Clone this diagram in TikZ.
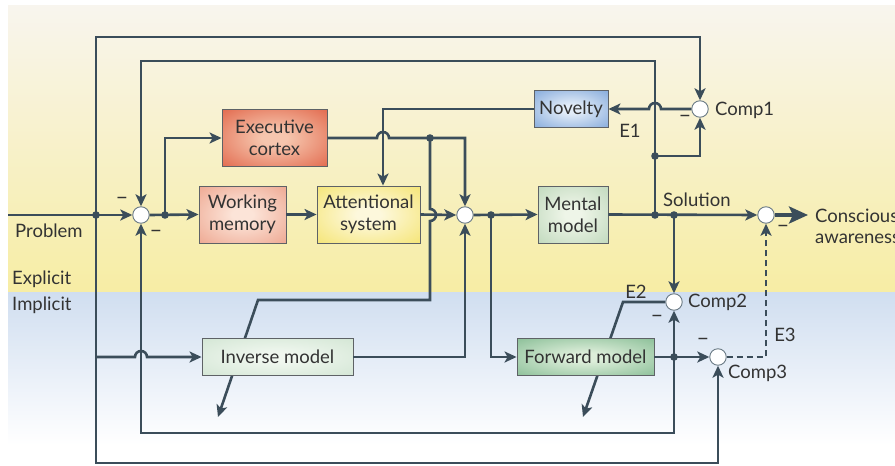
\documentclass[tikz,border=0pt]{standalone}
\usepackage{fontspec}
\setmainfont{Lato}
\usetikzlibrary{arrows.meta,calc}

\definecolor{wire}{HTML}{3B4D5A}
\definecolor{txt}{HTML}{333333}
\definecolor{boxline}{HTML}{5E6266}
\definecolor{circline}{HTML}{6A7A85}
\definecolor{bgtop}{HTML}{F8F5EE}
\definecolor{bgyel}{HTML}{F7EDA4}
\definecolor{bgblue}{HTML}{D0DEF0}

\definecolor{ecin}{HTML}{F6C6AE}\definecolor{ecout}{HTML}{DD5235}
\definecolor{wmin}{HTML}{FCE4D8}\definecolor{wmout}{HTML}{EA987F}
\definecolor{asin}{HTML}{FDF8DC}\definecolor{asout}{HTML}{F3E05A}
\definecolor{nvin}{HTML}{E2ECF8}\definecolor{nvout}{HTML}{6E9AD4}
\definecolor{mmin}{HTML}{EEF5E8}\definecolor{mmout}{HTML}{B5D2B2}
\definecolor{ivin}{HTML}{F0F7EF}\definecolor{ivout}{HTML}{CCE2CE}
\definecolor{fwin}{HTML}{DDEEDA}\definecolor{fwout}{HTML}{76B387}

% radial glow used to fill the boxes
\newcommand\glowshading[3]{\pgfdeclareradialshading{#1}{\pgfpoint{0bp}{0bp}}{color(0bp)=(#2);color(6bp)=(#2);color(44bp)=(#3);color(50bp)=(#3)}}
\glowshading{ecglow}{ecin}{ecout}
\glowshading{wmglow}{wmin}{wmout}
\glowshading{asglow}{asin}{asout}
\glowshading{nvglow}{nvin}{nvout}
\glowshading{mmglow}{mmin}{mmout}
\glowshading{ivglow}{ivin}{ivout}
\glowshading{fwglow}{fwin}{fwout}

\pgfdeclarelayer{back}
\pgfdeclarelayer{mid}
\pgfsetlayers{back,mid,main}

\tikzset{
  lbl/.style={font=\fontsize{18.5}{21}\selectfont, text=txt, inner sep=0pt},
  blk/.style={draw=boxline, line width=0.9pt, shade, inner sep=0pt, align=center,
              font=\fontsize{18.5}{21.5}\selectfont, text=txt},
  sum/.style={circle, draw=circline, line width=0.9pt, fill=white,
              minimum size=16.5pt, inner sep=0pt},
  wl/.style={draw=wire, line width=2.6pt},
  arr/.style={-{Stealth[length=12pt,width=11pt,inset=3pt]}},
  bigarr/.style={-{Stealth[length=19pt,width=17pt,inset=4pt]}},
  minus/.style={font=\fontsize{22}{22}\selectfont, text=txt, inner sep=0pt},
}

\begin{document}
\begin{tikzpicture}[x=1pt,y=-1pt]
\useasboundingbox (0,0) rectangle (895,466);
\clip (0,0) rectangle (895,466);

% explicit / implicit bands
\begin{pgfonlayer}{back}
  \fill[white] (0,0) rectangle (895,466);
  \shade[top color=bgtop, bottom color=bgyel] (8,5) rectangle (895,292);
  \shade[top color=bgblue, bottom color=white] (8,292) rectangle (895,445);
\end{pgfonlayer}

% blocks
\node[blk, shading=ecglow, minimum width=105pt, minimum height=57pt] (ec) at (274.5,138) {Executive\\cortex};
\node[blk, shading=wmglow, minimum width=87pt, minimum height=57pt] (wm) at (242.5,214.5) {Working\\memory};
\node[blk, shading=asglow, minimum width=103pt, minimum height=57pt] (as) at (368.5,214.5) {Attentional\\system};
\node[blk, shading=mmglow, minimum width=70pt, minimum height=57pt] (mm) at (573,214.5) {Mental\\model};
\node[blk, shading=nvglow, minimum width=74pt, minimum height=37pt] (nov) at (571,109) {Novelty};
\node[blk, shading=ivglow, minimum width=151pt, minimum height=37pt] (inv) at (277.5,357) {Inverse model};
\node[blk, shading=fwglow, minimum width=137pt, minimum height=37pt] (fwd) at (585.5,357) {Forward model};

% comparators
\node[sum] (s1) at (141,215) {};
\node[sum] (s2) at (465,215) {};
\node[sum] (c1) at (700,109) {};
\node[sum] (c2) at (674,302) {};
\node[sum] (c3) at (718,357) {};
\node[sum] (c4) at (766,215) {};

% branch points and free ends
\coordinate (pin) at (8,215);
\coordinate (p1) at (96,215);
\coordinate (d1) at (165,215);
\coordinate (d2) at (430,138);
\coordinate (d3) at (491,215);
\coordinate (d4) at (655,215);
\coordinate (d5) at (674,215);
\coordinate (d6) at (655,156);
\coordinate (d7) at (674,357);
\coordinate (invin) at (96,357);
\coordinate (iend) at (218,417);
\coordinate (fend) at (583,417);
\coordinate (cout) at (808,215);

% connectors that pass behind the model blocks
\begin{pgfonlayer}{mid}
  \draw[wl,arr] (d2) -- (430,209) arc[start angle=90,end angle=-90,radius=6pt]
      -- (430,300) -- (258,300) -- (iend);
  \draw[wl,arr] (c2.west) -- (623,302) -- (fend);
\end{pgfonlayer}

% explicit loop
\draw[wl,arr] (pin) -- (s1.west);
\draw[wl,arr] (p1) -- (96,37) -| (c1.north);
\draw[wl,arr] (p1) -- (96,463) -| (c3.south);
\draw[wl,arr] (invin) -- (135,357) arc[start angle=180,end angle=0,radius=6pt] -- (inv.west);
\draw[wl,arr] (s1.east) -- (wm.west);
\draw[wl,arr] (d1) |- (ec.west);
\draw[wl,arr] (wm.east) -- (as.west);
\draw[wl,arr] (as.east) -- (s2.west);
\draw[wl,arr] (ec.east) -- (377,138) arc[start angle=180,end angle=0,radius=6pt]
    -- (d2) -| (s2.north);
\draw[wl,arr] (nov.west) -| ([xshift=14.5pt]as.north);
\draw[wl,arr] (s2.east) -- (mm.west);
\draw[wl,arr] (d3) |- (fwd.west);
\draw[wl,arr] (inv.east) -| (s2.south);
\draw[wl,arr] (mm.east) -- (c4.west);
\draw[wl,arr] (d4) -- (655,61) -| (s1.north);
\draw[wl,arr] (d6) -| (c1.south);
\draw[wl,arr] (c1.west) -- (661,109) arc[start angle=0,end angle=180,radius=6pt] -- (nov.east);
\draw[wl,arr] (d5) -- (c2.north);
\draw[wl,arr] (fwd.east) -- (c3.west);
\draw[wl,arr] (d7) -- (c2.south);
\draw[wl,arr] (d7) -- (674,433) -| (s1.south);
\draw[wl,arr,dash pattern=on 6pt off 4pt] (c3.east) -| (c4.south);
\draw[draw=wire, line width=4.6pt, bigarr] (c4.east) -- (cout);

% junction dots
\foreach \p in {p1,d1,d2,d3,d4,d5,d6,d7}
  \fill[wire] (\p) circle (3.8pt);

% signs
\node[minus] at (122,201) {–};
\node[minus] at (156,234) {–};
\node[minus] at (685,119) {–};
\node[minus] at (783,229) {–};
\node[minus] at (657,319) {–};
\node[minus] at (703,342) {–};

% labels
\node[lbl, anchor=west] at (15,231) {Problem};
\node[lbl, anchor=west] at (12,279) {Explicit};
\node[lbl, anchor=west] at (12,305) {Implicit};
\node[lbl, anchor=west] at (715,110) {Comp1};
\node[lbl, anchor=west] at (688,302) {Comp2};
\node[lbl, anchor=west] at (728,373) {Comp3};
\node[lbl] at (630,131) {E1};
\node[lbl] at (636,292) {E2};
\node[lbl] at (785,335) {E3};
\node[lbl, anchor=west] at (663,200) {Solution};
\node[lbl, anchor=west, align=left] at (815,226) {Conscious\\awareness};
\end{tikzpicture}
\end{document}
